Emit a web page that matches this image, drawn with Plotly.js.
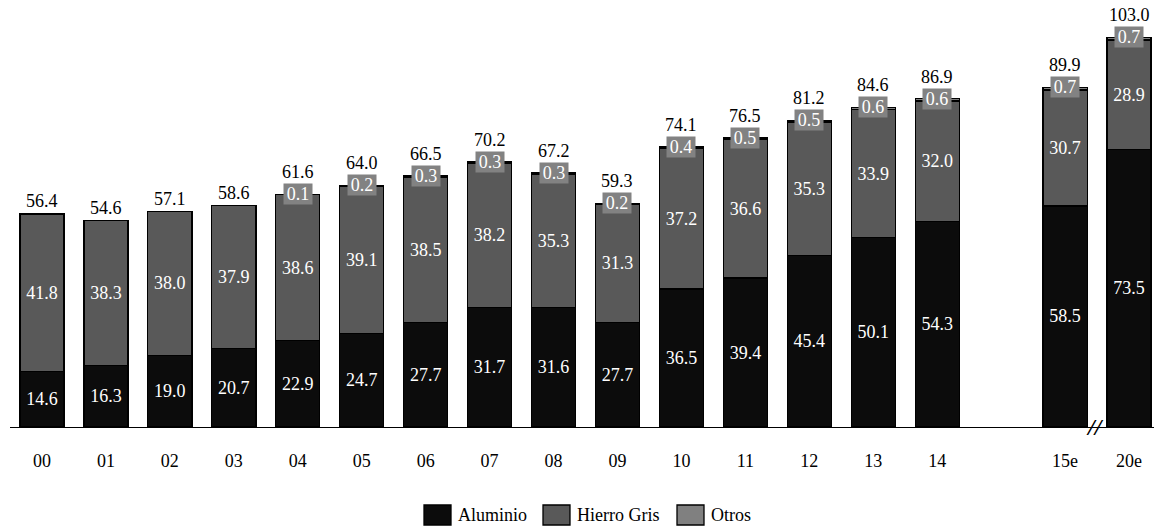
<!DOCTYPE html>
<html>
<head>
<meta charset="utf-8">
<script src="https://cdn.plot.ly/plotly-3.0.1.min.js"></script>
<style>
  html, body { margin: 0; padding: 0; background: #fff; }
  #chart { width: 1154px; height: 527px; }
</style>
</head>
<body>
<div id="chart"></div>
<script>
// Consumo por material (años 2000–2014, estimaciones 2015 y 2020)
const categories = ['00','01','02','03','04','05','06','07','08','09','10','11','12','13','14','15e','20e'];
const aluminio   = [14.6,16.3,19.0,20.7,22.9,24.7,27.7,31.7,31.6,27.7,36.5,39.4,45.4,50.1,54.3,58.5,73.5];
const hierroGris = [41.8,38.3,38.0,37.9,38.6,39.1,38.5,38.2,35.3,31.3,37.2,36.6,35.3,33.9,32.0,30.7,28.9];
const otros      = [null,null,null,null,0.1,0.2,0.3,0.3,0.3,0.2,0.4,0.5,0.5,0.6,0.6,0.7,0.7];
const totales    = [56.4,54.6,57.1,58.6,61.6,64.0,66.5,70.2,67.2,59.3,74.1,76.5,81.2,84.6,86.9,89.9,103.0];
const seriesNames = ['Aluminio', 'Hierro Gris', 'Otros'];

// Leave one empty slot between the historical years and the estimates
const nHist = categories.indexOf('15e');
const xPos = categories.map((c, i) => i < nHist ? i : i + 1);

const FONT = 'Liberation Serif';
const FS = 18;
const COLORS = ['#0c0c0c', '#595959', '#808080'];
const outline = { color: '#000', width: 1.3 };
const barW = 0.69;

function segment(name, vals, color, showText) {
  return {
    type: 'bar', name: name, x: xPos, y: vals, width: barW,
    marker: { color: color, line: outline },
    text: showText ? vals.map(v => v == null ? '' : v.toFixed(1)) : undefined,
    textposition: showText ? 'inside' : 'none',
    insidetextanchor: 'middle',
    textangle: 0,
    constraintext: 'none',
    textfont: { family: FONT, size: FS, color: '#fff' },
    hoverinfo: 'skip'
  };
}

const data = [
  segment(seriesNames[0], aluminio, COLORS[0], true),
  segment(seriesNames[1], hierroGris, COLORS[1], true),
  segment(seriesNames[2], otros, COLORS[2], false)
];

const annotations = [];
categories.forEach((c, i) => {
  const top = aluminio[i] + hierroGris[i] + (otros[i] || 0);
  if (otros[i] != null) {
    // small "Otros" value boxed on top of the bar
    annotations.push({
      x: xPos[i], y: top, xref: 'x', yref: 'y',
      text: otros[i].toFixed(1), showarrow: false,
      bgcolor: '#828282', borderpad: 0, width: 28, height: 20,
      font: { family: FONT, size: FS, color: '#fff' },
      yanchor: 'middle'
    });
  }
  annotations.push({
    x: xPos[i], y: top, xref: 'x', yref: 'y',
    text: totales[i].toFixed(1), showarrow: false,
    font: { family: FONT, size: FS, color: '#000' },
    yanchor: 'bottom', yshift: otros[i] != null ? 10 : 1
  });
});

// Axis break mark between 15e and 20e
annotations.push({
  x: (xPos[nHist] + xPos[nHist + 1]) / 2 - 0.03, y: 0, xref: 'x', yref: 'y',
  text: '<b>//</b>', showarrow: false, yanchor: 'middle',
  font: { family: FONT, size: 24, color: '#000', style: 'italic' }
});

// Legend drawn as boxes + labels below the axis
const PW = 1144, PH = 427, ML = 10;
const px2x = p => (p - ML) / PW;
const px2y = p => (PH - p) / PH;
const legendBoxes = [424, 543, 677];
const shapes = [];
seriesNames.forEach((n, k) => {
  const x0 = legendBoxes[k];
  shapes.push({
    type: 'rect', xref: 'paper', yref: 'paper',
    x0: px2x(x0), x1: px2x(x0 + 27), y0: px2y(525), y1: px2y(505),
    fillcolor: COLORS[k], line: { color: '#000', width: 1.3 }
  });
  annotations.push({
    x: px2x(x0 + 32), y: px2y(515), xref: 'paper', yref: 'paper',
    xanchor: 'left', yanchor: 'middle', showarrow: false,
    text: n, font: { family: FONT, size: FS, color: '#000' }
  });
});

const layout = {
  width: 1154, height: 527,
  margin: { l: ML, r: 0, t: 0, b: 100 },
  paper_bgcolor: '#fff', plot_bgcolor: '#fff',
  barmode: 'stack',
  showlegend: false,
  font: { family: FONT, size: FS, color: '#000' },
  xaxis: {
    range: [-0.5, 17.39],
    tickvals: xPos, ticktext: categories,
    showgrid: false, zeroline: false,
    showline: true, linecolor: '#000', linewidth: 1.3,
    ticks: '', ticklabelstandoff: 17,
    tickfont: { family: FONT, size: FS, color: '#000' },
    fixedrange: true
  },
  yaxis: {
    range: [0, 113], visible: false, showgrid: false, zeroline: false, fixedrange: true
  },
  shapes: shapes,
  annotations: annotations
};

Plotly.newPlot('chart', data, layout, { displayModeBar: false });
</script>
</body>
</html>
